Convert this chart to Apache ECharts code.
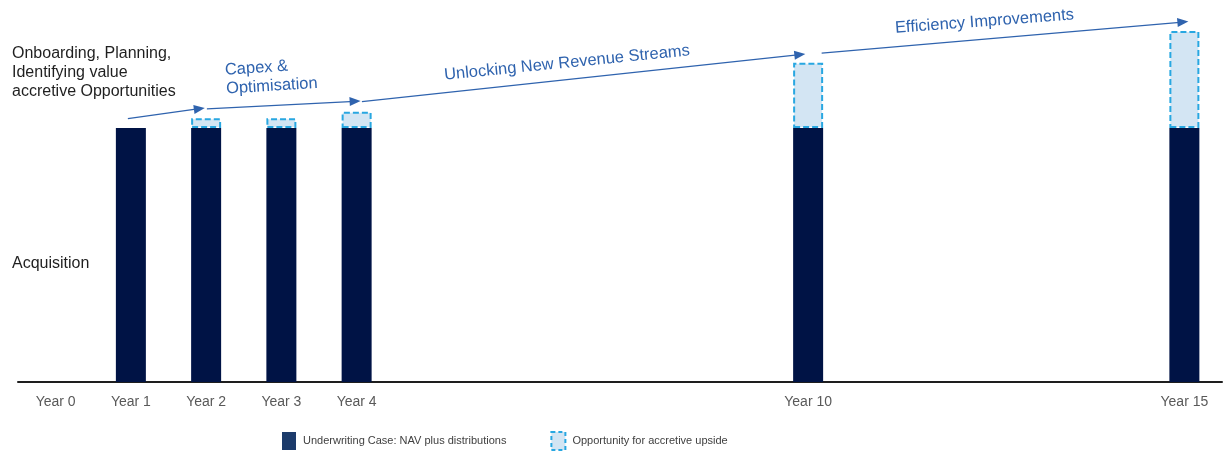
<!DOCTYPE html>
<html>
<head>
<meta charset="utf-8">
<script src="https://cdn.jsdelivr.net/npm/echarts@6/dist/echarts.min.js"></script>
<style>
  html, body { margin: 0; padding: 0; background: #ffffff; }
  #chart { width: 1224px; height: 459px; }
</style>
</head>
<body>
<div id="chart"></div>
<script>
// Holding period, one slot per year
const years = ['Year 0', 'Year 1', 'Year 2', 'Year 3', 'Year 4', 'Year 5', 'Year 6', 'Year 7',
  'Year 8', 'Year 9', 'Year 10', 'Year 11', 'Year 12', 'Year 13', 'Year 14', 'Year 15'];
// Years that carry a label on the axis
const labelledYears = ['Year 0', 'Year 1', 'Year 2', 'Year 3', 'Year 4', 'Year 10', 'Year 15'];

// Underwriting case (indexed to 100) and the accretive upside on top of it
const underwriting = [null, 100, 100, 100, 100, null, null, null, null, null, 100, null, null, null, null, 100];
const upside       = [null, null, 3.8, 3.8, 6.4, null, null, null, null, null, 25.7, null, null, null, null, 38.2];

// Value-creation phases: [start, end] as [year, index level]
const phaseArrows = [
  [[0.96, 103.7], [1.91, 107.6]],
  [[2.01, 107.5], [3.98, 110.5]],
  [[4.07, 110.4], [9.89, 128.9]],
  [[10.18, 129.5], [14.98, 141.7]]
];

const seriesNames = ['Underwriting Case: NAV plus distributions', 'Opportunity for accretive upside'];

const NAVY = '#001345';
const UPSIDE_FILL = '#d3e5f3';
const UPSIDE_EDGE = '#28a7e1';
const PHASE_BLUE = '#2f63ae';
const FONT = '"Liberation Sans", Arial, Helvetica, sans-serif';
const DASH = [6, 3];

const chart = echarts.init(document.getElementById('chart'), null, { renderer: 'canvas' });

chart.setOption({
  animation: false,
  backgroundColor: '#ffffff',
  textStyle: { fontFamily: FONT },
  grid: { left: 18, right: 2, top: 1, bottom: 77, containLabel: false },
  legend: {
    left: 282,
    top: 431,
    padding: 0,
    itemWidth: 14,
    itemHeight: 18,
    itemGap: 44,
    icon: 'rect',
    selectedMode: false,
    textStyle: { fontFamily: FONT, fontSize: 11, color: '#404040', padding: [0, 0, 0, 2] },
    data: [
      { name: seriesNames[0], itemStyle: { color: '#1c3b6b' } },
      { name: seriesNames[1], itemStyle: { color: UPSIDE_FILL, borderColor: UPSIDE_EDGE, borderWidth: 2, borderType: [4, 3] } }
    ]
  },
  xAxis: [
    {
      type: 'category',
      data: years,
      boundaryGap: true,
      axisLine: { show: true, lineStyle: { color: '#1e1e1e', width: 2 } },
      axisTick: { show: false },
      splitLine: { show: false },
      axisLabel: {
        interval: (i, v) => labelledYears.indexOf(v) >= 0,
        color: '#595959',
        fontSize: 14,
        fontFamily: FONT,
        margin: 13
      }
    },
    {
      // continuous year scale for the phase arrows, aligned with the category slots
      type: 'value',
      min: -0.5,
      max: 15.5,
      show: false,
      splitLine: { show: false }
    }
  ],
  yAxis: {
    type: 'value',
    min: 0,
    max: 150,
    show: false,
    splitLine: { show: false }
  },
  series: [
    {
      name: seriesNames[0],
      type: 'bar',
      stack: 'value',
      barWidth: 30,
      data: underwriting,
      itemStyle: { color: NAVY },
      silent: true
    },
    {
      name: seriesNames[1],
      type: 'bar',
      stack: 'value',
      barWidth: 30,
      data: upside,
      itemStyle: {
        color: UPSIDE_FILL,
        borderColor: UPSIDE_EDGE,
        borderWidth: 2,
        borderType: DASH
      },
      silent: true
    },
    {
      name: 'phases',
      type: 'line',
      xAxisIndex: 1,
      yAxisIndex: 0,
      data: [],
      silent: true,
      markLine: {
        silent: true,
        animation: false,
        symbol: ['none', 'triangle'],
        symbolSize: [9, 11],
        label: { show: false },
        lineStyle: { color: PHASE_BLUE, width: 1.2, type: 'solid' },
        emphasis: { disabled: true },
        data: phaseArrows.map(a => [{ coord: a[0] }, { coord: a[1] }])
      }
    }
  ],
  graphic: [
    {
      type: 'text', x: 12, y: 72.4, silent: true,
      style: {
        text: 'Onboarding, Planning,\nIdentifying value\naccretive Opportunities',
        fontFamily: FONT, fontSize: 16, lineHeight: 19.3, fill: '#1f1f1f',
        align: 'left', verticalAlign: 'middle'
      }
    },
    {
      type: 'text', x: 12, y: 263.7, silent: true,
      style: {
        text: 'Acquisition',
        fontFamily: FONT, fontSize: 16, fill: '#1f1f1f',
        align: 'left', verticalAlign: 'middle'
      }
    },
    {
      type: 'text', x: 225.5, y: 79.6, rotation: 0.063, silent: true,
      style: {
        text: 'Capex &\nOptimisation',
        fontFamily: FONT, fontSize: 16.5, lineHeight: 19, fill: PHASE_BLUE,
        align: 'left', verticalAlign: 'middle'
      }
    },
    {
      type: 'text', x: 567, y: 63, rotation: 0.0995, silent: true,
      style: {
        text: 'Unlocking New Revenue Streams',
        fontFamily: FONT, fontSize: 16.5, fill: PHASE_BLUE,
        align: 'center', verticalAlign: 'middle'
      }
    },
    {
      type: 'text', x: 984.5, y: 21.6, rotation: 0.075, silent: true,
      style: {
        text: 'Efficiency Improvements',
        fontFamily: FONT, fontSize: 16.5, fill: PHASE_BLUE,
        align: 'center', verticalAlign: 'middle'
      }
    }
  ]
});
</script>
</body>
</html>
